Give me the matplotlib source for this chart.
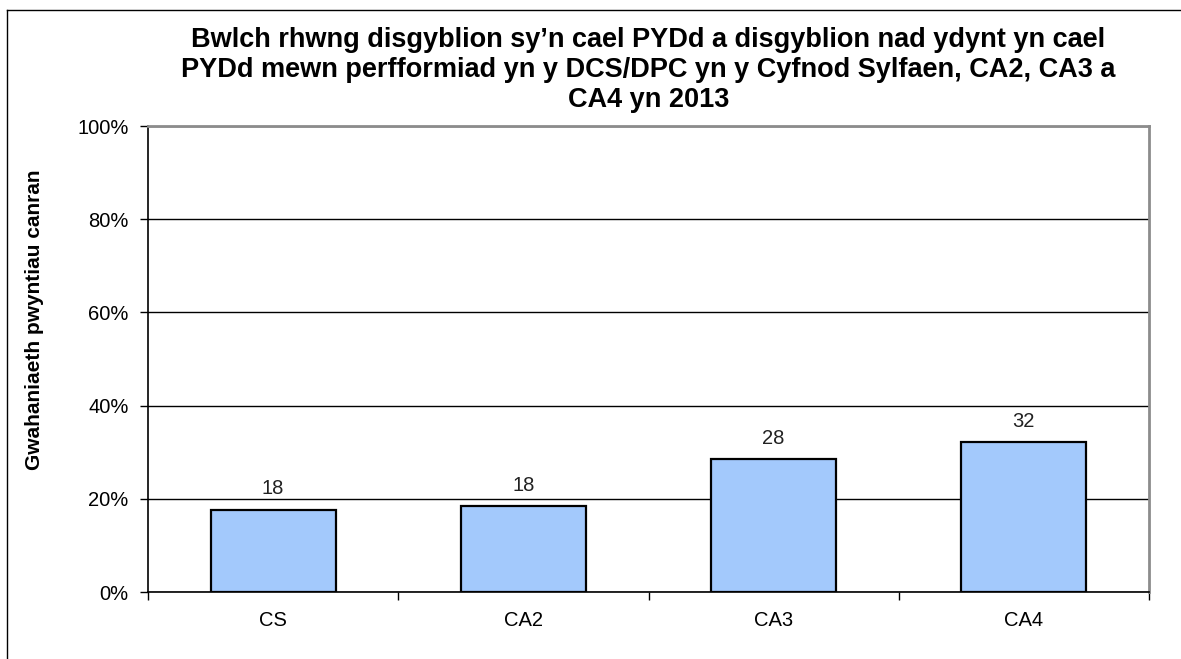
import matplotlib
matplotlib.use("Agg")
import matplotlib.pyplot as plt
from matplotlib.lines import Line2D

plt.rcParams['font.family'] = ['Liberation Sans', 'DejaVu Sans']

# data
categories = ["CS", "CA2", "CA3", "CA4"]
gap_values = [17.7, 18.4, 28.6, 32.2]
value_labels = ["18", "18", "28", "32"]
y_ticks = [0, 20, 40, 60, 80, 100]
y_tick_labels = ["0%", "20%", "40%", "60%", "80%", "100%"]

title = ("Bwlch rhwng disgyblion sy\u2019n cael PYDd a disgyblion nad ydynt yn cael\n"
         "PYDd mewn perfformiad yn y DCS/DPC yn y Cyfnod Sylfaen, CA2, CA3 a\n"
         "CA4 yn 2013")
y_label = "Gwahaniaeth pwyntiau canran"

W, H = 1181, 659
fig = plt.figure(figsize=(W / 100, H / 100), dpi=100)
ax = fig.add_axes([148 / W, 1 - 592 / H, (1149 - 148) / W, (592 - 126) / H])

# outer chart frame (only left and top edges visible in the reference)
fig.add_artist(Line2D([7 / W, 7 / W], [0, 1 - 10 / H], color='black', lw=1,
                      transform=fig.transFigure))
fig.add_artist(Line2D([7 / W, 1], [1 - 10 / H, 1 - 10 / H], color='black', lw=1,
                      transform=fig.transFigure))

x = list(range(len(categories)))
ax.set_axisbelow(True)
ax.yaxis.grid(True, color='black', lw=1)
bars = ax.bar(x, gap_values, width=0.5, color='#a3c9fc', edgecolor='black',
              linewidth=1.6, zorder=3)
for b, lab in zip(bars, value_labels):
    ax.annotate(lab, (b.get_x() + b.get_width() / 2, b.get_height()),
                xytext=(0, 8), textcoords='offset points', ha='center',
                va='bottom', fontsize=14.5, color='#222222')

ax.set_xlim(-0.5, len(categories) - 0.5)
ax.set_ylim(0, 100)
ax.set_yticks(y_ticks)
ax.set_yticklabels(y_tick_labels, fontsize=14.5)
ax.set_xticks(x)
ax.set_xticklabels(categories, fontsize=14.5)
ax.set_xticks([i - 0.5 for i in range(len(categories) + 1)], minor=True)
ax.tick_params(axis='x', which='major', length=0, pad=14)
ax.tick_params(axis='x', which='minor', length=6, width=1, direction='out')
ax.tick_params(axis='y', length=6, width=1, direction='out', pad=8)

for s in ['left', 'bottom']:
    ax.spines[s].set_color('black')
    ax.spines[s].set_linewidth(1.2)
for s in ['top', 'right']:
    ax.spines[s].set_color('#8c8c8c')
    ax.spines[s].set_linewidth(2)

ax.set_title(title, fontsize=19.5, fontweight='bold', pad=14, linespacing=1.2)
fig.text(35 / W, 1 - 320 / H, y_label, rotation=90, ha='center', va='center',
         fontsize=15, fontweight='bold')

fig.savefig("out.png", dpi=100)
